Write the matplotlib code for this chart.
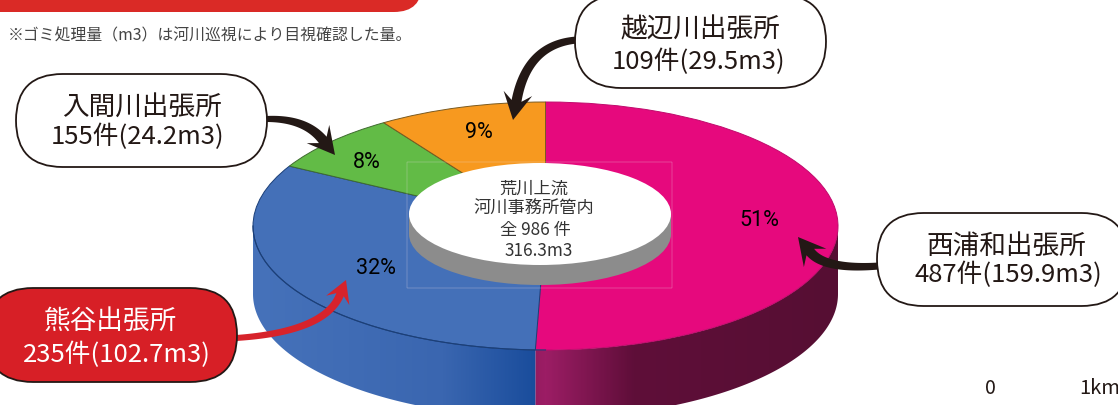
import numpy as np
import matplotlib
matplotlib.use("Agg")
import matplotlib.pyplot as plt
from matplotlib.patches import FancyBboxPatch, Ellipse, Rectangle, Polygon
from matplotlib.colors import LinearSegmentedColormap

plt.rcParams['font.family'] = ['Noto Sans CJK JP', 'DejaVu Sans']

# ---- data ----
offices = ['西浦和出張所', '熊谷出張所', '入間川出張所', '越辺川出張所']
counts = [487, 235, 155, 109]
volumes = [159.9, 102.7, 24.2, 29.5]
percents = ['51%', '32%', '8%', '9%']
total_count = 986
total_volume = 316.3
note = '※ゴミ処理量（m3）は河川巡視により目視確認した量。'
centre_title = ['荒川上流', '河川事務所管内']
scale_labels = ['0', '1km']

# ---- style ----
W, H = 1118, 405
top_colors = ['#E6097D', '#4470B8', '#62BB46', '#F7991F']
edge_colors = ['#C00A6C', '#1B3F78', '#3F6B30', '#7A5A20']
side_stops = {
    0: [(0.0, '#9C1D65'), (0.30, '#5F0E39'), (1.0, '#560F33')],
    1: [(0.0, '#4672BA'), (0.65, '#3A66B0'), (1.0, '#164A9A')],
}
INK = '#231815'
CX, CY, RX, RY, DEPTH = 545.5, 226, 292.5, 124, 68

fig = plt.figure(figsize=(W / 100, H / 100), dpi=100, facecolor='white')

# pie axes: one data unit = RX px across and RY px down, so the circle is squashed
ax = fig.add_axes([0, 0, 1, 1])
wedges, _ = ax.pie(volumes, colors=top_colors, startangle=90, counterclock=False,
                   radius=1, center=(0, 0),
                   wedgeprops=dict(linewidth=0.7, zorder=5))
for w, e in zip(wedges, edge_colors):
    w.set_edgecolor(e)

# extruded side, built from the same slice angles, shaded by a clipped gradient
depth = DEPTH / RY
fracs = np.array(volumes) / sum(volumes)
starts = 90 - 360 * np.concatenate([[0], np.cumsum(fracs)[:-1]])
gx = np.linspace(-1, 1, 600)
for i, (s, f) in enumerate(zip(starts, fracs)):
    if i not in side_stops:
        continue
    cmap = LinearSegmentedColormap.from_list('s', side_stops[i])
    th = np.radians(np.linspace(s, s - 360 * f, 400))
    th = th[np.sin(th) <= 0.01]
    xs, ys = np.cos(th), np.sin(th)
    poly = Polygon(np.r_[np.c_[xs, ys], np.c_[xs[::-1], ys[::-1] - depth]],
                   closed=True, fc='none', ec='none', transform=ax.transData)
    ax.add_patch(poly)
    pos = np.abs(gx) if i == 0 else 1 - np.abs(gx)
    im = ax.imshow(cmap(pos)[None, :, :], extent=(-1, 1, -1 - depth, 1),
                   aspect='auto', zorder=2, interpolation='bilinear')
    im.set_clip_path(poly)

# dark outline along the lower rim of the left side
th = np.radians(np.linspace(180, 270, 100))
ax.plot(np.cos(th), np.sin(th), color='#1B3F78', lw=0.8, zorder=6)

ax.set_aspect('auto')
ax.set_xlim(-CX / RX, (W - CX) / RX)
ax.set_ylim(-(H - CY) / RY, CY / RY)
ax.axis('off')

# overlay in picture pixels
ov = fig.add_axes([0, 0, 1, 1], facecolor='none')
ov.set_xlim(0, W)
ov.set_ylim(H, 0)
ov.axis('off')

# hole
hx, hy, ha, hb, hd = 540, 214, 131, 51, 20
ov.add_patch(Ellipse((hx, hy + hd), 2 * ha, 2 * hb, fc='#8C8C8C', ec='none', zorder=7))
ov.add_patch(Rectangle((hx - ha, hy), 2 * ha, hd, fc='#8C8C8C', ec='none', zorder=7))
ov.add_patch(Ellipse((hx, hy), 2 * ha, 2 * hb, fc='white', ec='none', zorder=8))
ov.add_patch(Rectangle((407, 162), 265, 126, fc='none', ec='#EBDFE6', lw=0.35, alpha=0.55, zorder=9))

# centre text
for txt, x, y in [(centre_title[0], 534, 189), (centre_title[1], 534, 209),
                  (f'全 {total_count} 件', 535, 230), (f'{total_volume}m3', 539, 251)]:
    ov.text(x, y, txt, ha='center', va='center', fontsize=12.4, color='#333333', zorder=10)

# percent labels
for txt, x, y in zip(percents, [759, 376, 367, 479], [221, 268, 162, 132]):
    ov.text(x, y, txt, ha='center', va='center', fontsize=15.5, color='black',
            family=['Roboto', 'DejaVu Sans'], zorder=10)

# arrows: quadratic curve with a growing tail and a notched head
def curved_arrow(a, c, tip, col, w0, w1, L, HW):
    a, c, tip = map(np.asarray, (a, c, tip))
    d = tip - c
    d = d / np.hypot(*d)
    n = np.array([-d[1], d[0]])
    notch = tip - d * L * 0.72
    t = np.linspace(0, 1, 60)[:, None]
    pts = (1 - t) ** 2 * a + 2 * t * (1 - t) * c + t ** 2 * notch
    tan = np.gradient(pts, axis=0)
    nor = np.c_[-tan[:, 1], tan[:, 0]] / np.hypot(tan[:, 0], tan[:, 1])[:, None]
    half = (w0 + (w1 - w0) * t) / 2
    base = tip - d * L
    outline = np.r_[pts + nor * half, [base + n * HW / 2, tip, base - n * HW / 2],
                    (pts - nor * half)[::-1]]
    ov.add_patch(Polygon(outline, closed=True, fc=col, ec='none', zorder=11))

curved_arrow((266, 119), (305, 118), (335, 155), INK, 6, 10, 27, 29)
curved_arrow((577, 40), (527, 44), (513, 120), INK, 7, 10, 27, 29)
curved_arrow((879, 266), (825, 270), (798, 237), INK, 7, 10, 27, 29)
curved_arrow((236, 338), (325, 332), (346, 280), '#D7232B', 6, 8, 22, 25)

# callouts
def callout(x0, y0, x1, y1, fc, ec):
    r = (y1 - y0) / 2
    ov.add_patch(FancyBboxPatch((x0 + r, y0 + r), x1 - x0 - 2 * r, 0.001,
                                boxstyle=f'round,pad={r},rounding_size={r}',
                                fc=fc, ec=ec, lw=1.3, zorder=12))

boxes = [(877, 213, 1128, 306, 'white', INK, INK, 1006, 1008, 246, 275),
         (-14, 288, 237, 382, '#D71F26', INK, 'white', 110, 117, 321, 355),
         (16, 74, 267, 167, 'white', INK, INK, 142, 138, 107, 137),
         (575, -5, 826, 88, 'white', INK, INK, 700, 699, 30, 62)]
for i, (x0, y0, x1, y1, fc, ec, tc, tx1, tx2, ty1, ty2) in enumerate(boxes):
    callout(x0, y0, x1, y1, fc, ec)
    ov.text(tx1, ty1, offices[i], ha='center', va='center', fontsize=19.2, color=tc, zorder=13)
    ov.text(tx2, ty2, f'{counts[i]}件({volumes[i]}m3)', ha='center', va='center',
            fontsize=18.5, color=tc, zorder=13)

# red banner cut off by the top edge
ov.add_patch(FancyBboxPatch((-20, -40), 412, 22, boxstyle='round,pad=30,rounding_size=28',
                            fc='#DA2A26', ec='none', zorder=6))

ov.text(8, 36, note, ha='left', va='center', fontsize=11.4, color='#444444', zorder=10)
ov.text(990, 389, scale_labels[0], ha='center', va='center', fontsize=14, color=INK, zorder=10)
ov.text(1079, 389, scale_labels[1], ha='left', va='center', fontsize=14.5, color=INK, zorder=10)

fig.savefig('out.png', dpi=100)
